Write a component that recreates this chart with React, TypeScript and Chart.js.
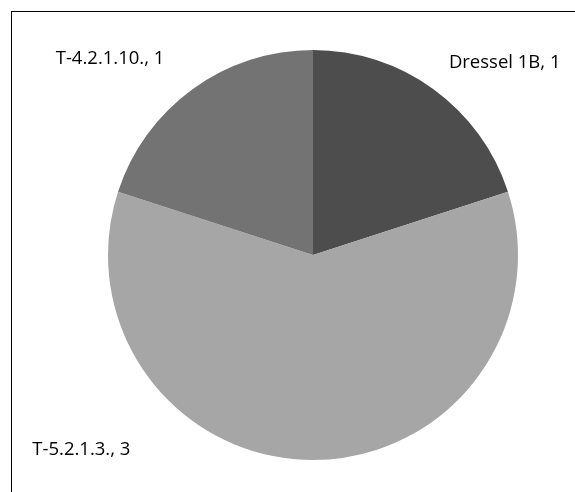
import React, { useEffect, useRef } from "react";
import { Chart, registerables } from "chart.js";

Chart.register(...registerables);

const categories = ["Dressel 1B", "T-5.2.1.3.", "T-4.2.1.10."];
const values = [1, 3, 1];
const colors = ["#4d4d4d", "#a6a6a6", "#737373"];

// label placement (relative to pie centre, in units of radius)
const labelAnchors = [
  { dx: 0.935, dy: -0.94 },
  { dx: -1.13, dy: 0.95 },
  { dx: -0.99, dy: -0.955 },
];

const labelPlugin = {
  id: "outerLabels",
  afterDraw(chart: any) {
    const meta = chart.getDatasetMeta(0);
    const arc = meta.data[0];
    if (!arc) return;
    const cx = arc.x;
    const cy = arc.y;
    const r = arc.outerRadius;
    const ctx = chart.ctx;
    ctx.save();
    ctx.font = '18.5px "Open Sans", "Noto Sans", sans-serif';
    ctx.fillStyle = "#000000";
    ctx.textAlign = "center";
    ctx.textBaseline = "middle";
    categories.forEach((c, i) => {
      const a = labelAnchors[i];
      ctx.fillText(`${c}, ${values[i]}`, cx + a.dx * r, cy + a.dy * r);
    });
    ctx.restore();
  },
};

export default function App() {
  const ref = useRef<HTMLCanvasElement>(null);
  useEffect(() => {
    if (!ref.current) return;
    const chart = new Chart(ref.current, {
      type: "pie",
      data: {
        labels: categories,
        datasets: [
          {
            data: values,
            backgroundColor: colors,
            borderWidth: 0,
          },
        ],
      },
      options: {
        animation: false,
        responsive: false,
        layout: { padding: { top: 50, bottom: 32, left: 108, right: 57 } },
        plugins: {
          legend: { display: false },
          tooltip: { enabled: false },
        },
      },
      plugins: [labelPlugin],
    });
    return () => chart.destroy();
  }, []);

  return (
    <div
      style={{
        position: "fixed",
        left: 0,
        top: 0,
        width: 575,
        height: 492,
        overflow: "hidden",
        background: "#ffffff",
      }}
    >
      <div
        style={{
          position: "absolute",
          left: 11,
          top: 11,
          width: 600,
          height: 520,
          border: "1px solid #000",
          boxSizing: "border-box",
        }}
      />
      <canvas
        ref={ref}
        width={575}
        height={492}
        style={{ position: "absolute", left: 0, top: 0 }}
      />
    </div>
  );
}
